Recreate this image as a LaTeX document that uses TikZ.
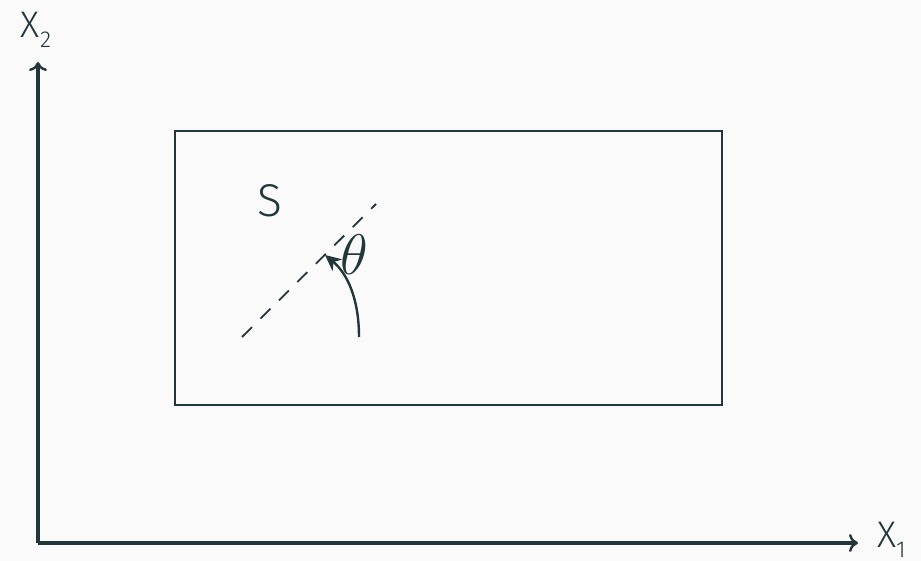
\documentclass[tikz,border=0pt]{standalone}
\usepackage{fontspec}
\newfontfamily\firalight{Fira Sans Light}
\usetikzlibrary{arrows.meta}
\definecolor{mDark}{HTML}{23373B}
\definecolor{mBack}{HTML}{FAFAFA}
\newcommand{\axlabel}[2]{{\firalight #1\raisebox{-0.27em}{\fontsize{23}{23}\selectfont #2}}}
\tikzset{
  axis/.style={line width=3.2pt, draw=mDark, -{To[length=9pt,width=18pt,line width=2.4pt]}},
  lbl/.style={text=mDark, inner sep=0pt, font=\fontsize{37}{42}\selectfont},
  big/.style={text=mDark, inner sep=0pt, font=\fontsize{46}{52}\selectfont}
}
\begin{document}
\begin{tikzpicture}[x=1pt, y=-1pt]
        \fill[mBack] (0,0) rectangle (921,561);
        \useasboundingbox (0,0) rectangle (921,561);
        % axes
        \coordinate (O) at (38,543);
        \coordinate (xend) at (858,543);
        \coordinate (yend) at (38,62);
        \draw[axis] (O) -- (xend);
        \draw[axis] (O) -- (yend);
        \node[lbl, anchor=west] (xlab) at (877,540) {\axlabel{X}{1}};
        \node[lbl] (ylab) at (36,30) {\axlabel{X}{2}};
        % region
        \draw[mDark, line width=1.5pt] (175,131) rectangle (722,405);
        \node[big] (S) at (270,201) {\firalight S};
        % direction and angle
        \coordinate (d1) at (242,337);
        \coordinate (d2) at (376,204);
        \draw[mDark, line width=1.8pt, dash pattern=on 14pt off 12pt] (d1) -- (d2);
        \coordinate (a1) at (359,337);
        \coordinate (a2) at (325,255);
        \draw[mDark, line width=2.4pt, -{Stealth[length=16pt,width=15pt,inset=5pt]}]
          (a1) .. controls (359,300) and (348,274) .. (a2);
        \node[big] (theta) at (354,255) {\scalebox{2.3}{$\theta$}};
\end{tikzpicture}
\end{document}
